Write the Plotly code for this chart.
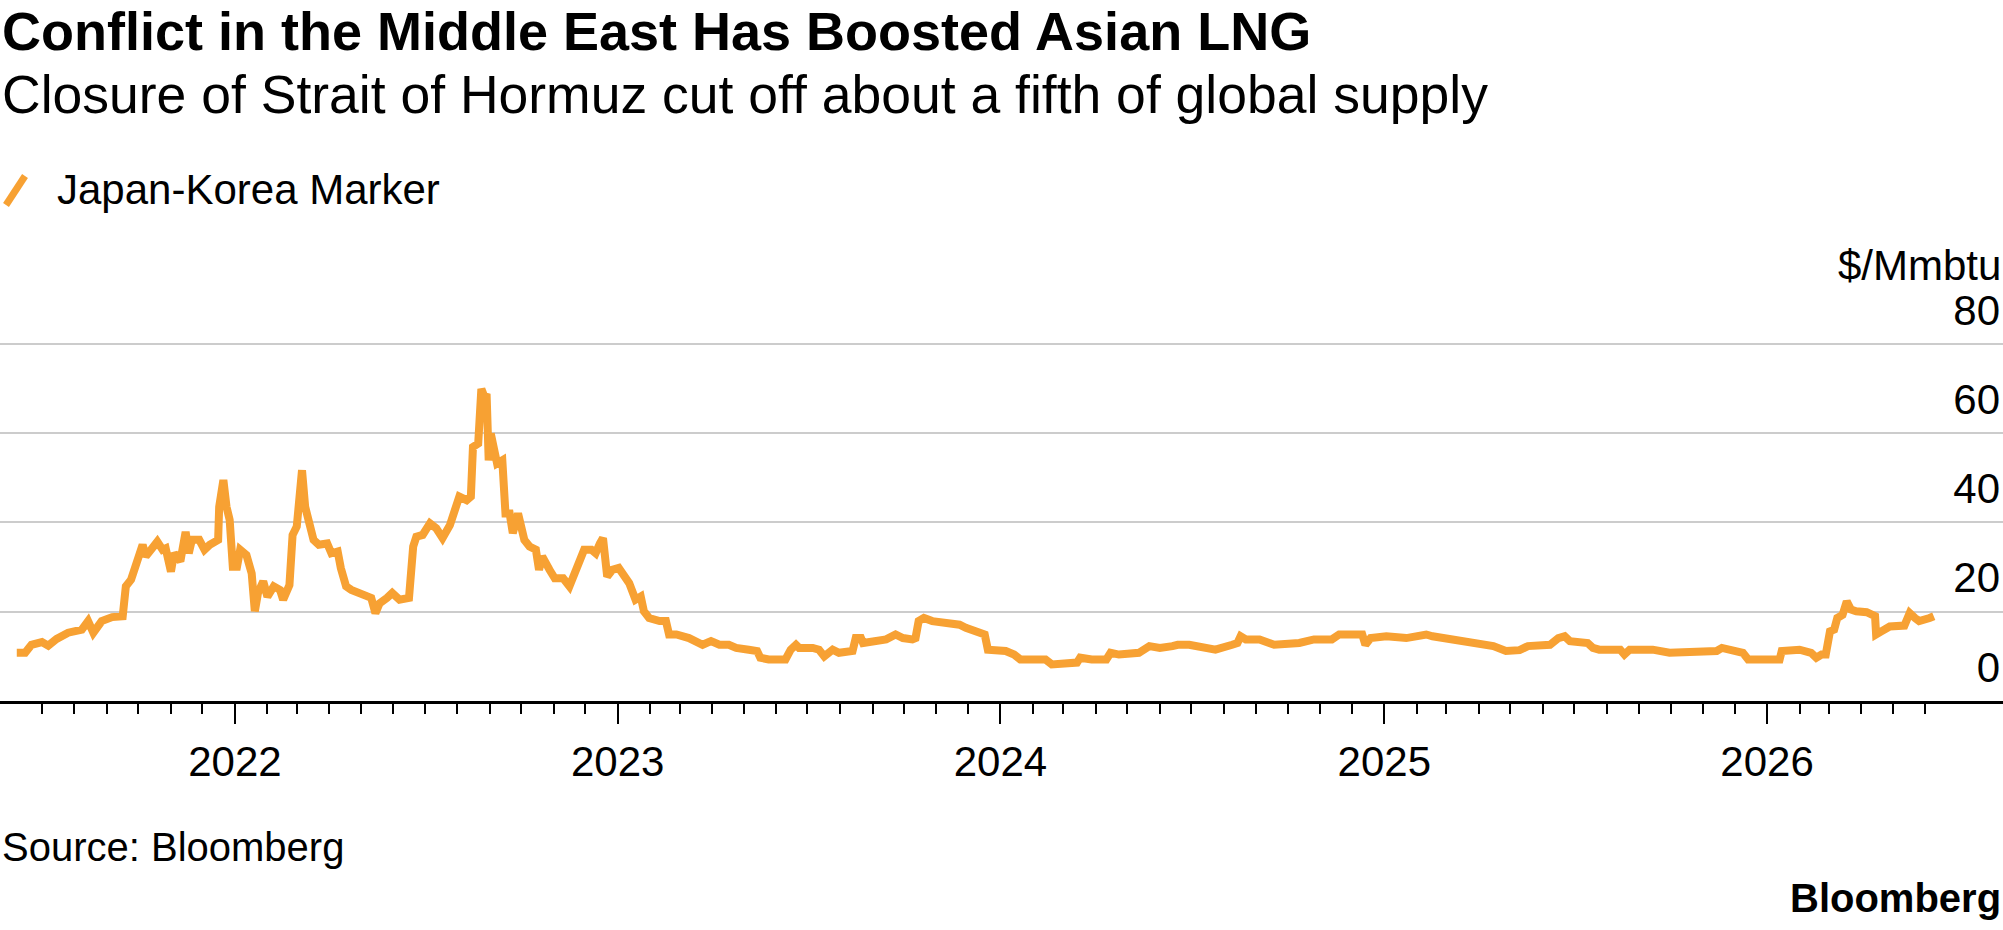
import pandas as pd
import plotly.graph_objects as go

# ---- data ----
dates = [
    "2021-06-07", "2021-06-15", "2021-06-21", "2021-07-01", "2021-07-07", "2021-07-15",
    "2021-07-26", "2021-08-08", "2021-08-14", "2021-08-19", "2021-08-27", "2021-09-06",
    "2021-09-16", "2021-09-19", "2021-09-24", "2021-10-01", "2021-10-05", "2021-10-08",
    "2021-10-14", "2021-10-19", "2021-10-24", "2021-10-27", "2021-11-01", "2021-11-04",
    "2021-11-10", "2021-11-15", "2021-11-18", "2021-11-21", "2021-11-28", "2021-12-03",
    "2021-12-08", "2021-12-16", "2021-12-17", "2021-12-21", "2021-12-24", "2021-12-27",
    "2021-12-30", "2022-01-03", "2022-01-06", "2022-01-12", "2022-01-17", "2022-01-20",
    "2022-01-23", "2022-01-28", "2022-02-01", "2022-02-07", "2022-02-13", "2022-02-16",
    "2022-02-22", "2022-02-25", "2022-03-01", "2022-03-06", "2022-03-09", "2022-03-14",
    "2022-03-17", "2022-03-22", "2022-03-30", "2022-04-03", "2022-04-09", "2022-04-12",
    "2022-04-17", "2022-04-22", "2022-05-02", "2022-05-08", "2022-05-11", "2022-05-15",
    "2022-05-19", "2022-05-26", "2022-05-31", "2022-06-07", "2022-06-16", "2022-06-20",
    "2022-06-23", "2022-06-29", "2022-07-06", "2022-07-12", "2022-07-18", "2022-07-25",
    "2022-07-29", "2022-08-03", "2022-08-10", "2022-08-14", "2022-08-16", "2022-08-21",
    "2022-08-24", "2022-08-27", "2022-08-29", "2022-08-31", "2022-09-02", "2022-09-05",
    "2022-09-08", "2022-09-13", "2022-09-16", "2022-09-20", "2022-09-23", "2022-09-28",
    "2022-10-04", "2022-10-09", "2022-10-15", "2022-10-18", "2022-10-21", "2022-10-28",
    "2022-11-02", "2022-11-10", "2022-11-16", "2022-11-21", "2022-11-27", "2022-11-30",
    "2022-12-07", "2022-12-11", "2022-12-15", "2022-12-18", "2022-12-22", "2022-12-27",
    "2023-01-02", "2023-01-07", "2023-01-12", "2023-01-18", "2023-01-23", "2023-01-26",
    "2023-01-31", "2023-02-10", "2023-02-16", "2023-02-19", "2023-02-26", "2023-03-10",
    "2023-03-17", "2023-03-23", "2023-03-31", "2023-04-08", "2023-04-17", "2023-04-24",
    "2023-05-06", "2023-05-14", "2023-05-17", "2023-05-25", "2023-06-10", "2023-06-15",
    "2023-06-20", "2023-06-23", "2023-07-06", "2023-07-12", "2023-07-17", "2023-07-25",
    "2023-07-31", "2023-08-13", "2023-08-16", "2023-08-21", "2023-08-23", "2023-09-04",
    "2023-09-14", "2023-09-23", "2023-09-30", "2023-10-09", "2023-10-12", "2023-10-15",
    "2023-10-20", "2023-10-28", "2023-11-10", "2023-11-23", "2023-11-29", "2023-12-12",
    "2023-12-17", "2023-12-20", "2023-12-28", "2024-01-06", "2024-01-14", "2024-01-20",
    "2024-01-31", "2024-02-13", "2024-02-19", "2024-03-03", "2024-03-14", "2024-03-17",
    "2024-03-28", "2024-04-11", "2024-04-15", "2024-04-23", "2024-05-06", "2024-05-12",
    "2024-05-22", "2024-06-01", "2024-06-13", "2024-06-18", "2024-06-29", "2024-07-08",
    "2024-07-24", "2024-08-09", "2024-08-14", "2024-08-17", "2024-08-22", "2024-09-04",
    "2024-09-18", "2024-10-12", "2024-10-26", "2024-11-12", "2024-11-19", "2024-12-11",
    "2024-12-14", "2024-12-19", "2025-01-03", "2025-01-22", "2025-02-10", "2025-02-16",
    "2025-03-07", "2025-04-02", "2025-04-15", "2025-04-27", "2025-05-10", "2025-05-18",
    "2025-06-08", "2025-06-16", "2025-06-22", "2025-06-27", "2025-07-14", "2025-07-19",
    "2025-07-25", "2025-08-14", "2025-08-18", "2025-08-23", "2025-09-14", "2025-09-30",
    "2025-11-14", "2025-11-19", "2025-12-09", "2025-12-14", "2026-01-13", "2026-01-15",
    "2026-02-01", "2026-02-12", "2026-02-17", "2026-02-22", "2026-02-26", "2026-03-02",
    "2026-03-06", "2026-03-09", "2026-03-14", "2026-03-18", "2026-03-22", "2026-03-27",
    "2026-04-06", "2026-04-14", "2026-04-15", "2026-04-20", "2026-04-28", "2026-05-12",
    "2026-05-17", "2026-05-22", "2026-05-26", "2026-06-05", "2026-06-09",
]
jkm = [
    10.8, 10.8, 12.6, 13.2, 12.4, 13.9,
    15.3, 16.0, 17.9, 15.3, 17.9, 18.8,
    19.0, 25.7, 27.2, 31.6, 35.0, 32.4,
    33.9, 35.7, 33.9, 34.2, 29.0, 33.1,
    31.3, 37.9, 33.1, 36.1, 36.1, 33.9,
    35.0, 36.1, 43.5, 49.5, 43.5, 40.6,
    30.1, 30.1, 33.9, 32.7, 28.6, 20.1,
    24.2, 26.8, 23.4, 25.7, 24.9, 22.7,
    26.0, 37.2, 39.1, 51.7, 43.5, 37.6,
    36.1, 35.0, 35.3, 33.1, 33.5, 29.8,
    25.7, 24.9, 23.8, 23.1, 23.1, 19.7,
    21.9, 23.1, 24.2, 22.7, 23.1, 34.6,
    36.8, 37.2, 39.8, 38.7, 36.5, 39.4,
    42.8, 45.8, 45.0, 45.8, 56.9, 57.7,
    69.9, 68.1, 68.8, 53.9, 59.9, 55.4,
    53.2, 53.9, 42.0, 42.0, 37.6, 42.0,
    36.1, 34.6, 33.9, 29.4, 32.4, 29.4,
    27.5, 27.5, 25.7, 28.6, 31.6, 33.9,
    33.9, 33.1, 35.3, 36.5, 27.9, 29.4,
    29.8, 27.9, 26.4, 22.7, 23.4, 20.1,
    18.6, 17.9, 17.9, 14.9, 14.9, 14.1,
    13.4, 12.6, 13.4, 12.6, 12.6, 11.9,
    11.5, 11.2, 9.7, 9.3, 9.3, 11.5,
    12.6, 11.9, 11.9, 11.5, 10.0, 11.5,
    10.8, 11.2, 14.1, 14.1, 13.0, 13.4,
    13.8, 14.9, 14.1, 13.8, 14.1, 17.9,
    18.6, 17.9, 17.5, 17.1, 16.4, 15.6,
    14.9, 11.5, 11.5, 11.2, 10.4, 9.3,
    9.3, 9.3, 8.2, 8.2, 8.6, 9.7,
    9.3, 9.3, 10.8, 10.4, 10.4, 10.8,
    12.3, 11.9, 12.3, 12.6, 12.6, 12.3,
    11.5, 12.6, 13.0, 14.5, 13.8, 13.8,
    12.6, 13.0, 13.8, 13.8, 14.9, 14.9,
    12.6, 14.1, 14.5, 14.1, 14.9, 14.5,
    13.8, 13.0, 12.3, 11.2, 11.4, 12.3,
    12.6, 14.1, 14.5, 13.4, 13.0, 11.9,
    11.5, 11.5, 10.4, 11.5, 11.5, 10.8,
    11.2, 11.9, 10.8, 9.3, 9.3, 11.2,
    11.5, 10.8, 9.7, 10.4, 10.4, 15.6,
    16.0, 18.6, 19.3, 22.3, 20.5, 20.1,
    19.9, 19.0, 14.9, 15.6, 16.7, 16.9,
    19.7, 18.6, 17.9, 18.6, 19.0,
]

series_name = "Japan-Korea Marker"
y_ticks = [0, 20, 40, 60, 80]
x_range = ["2021-05-22", "2026-08-14"]
month_ticks_span = ("2021-07-01", "2026-06-01")

title = "Conflict in the Middle East Has Boosted Asian LNG"
subtitle = "Closure of Strait of Hormuz cut off about a fifth of global supply"
unit = "$/Mmbtu"
source = "Source: Bloomberg"
brand = "Bloomberg"

# ---- style ----
ORANGE = "#F7A133"
FONT = "Liberation Sans, Arial, sans-serif"
W, H = 2003, 930
T, B = 335, 229
Y_TOP = 82

minor_vals = [d.strftime("%Y-%m-%d")
              for d in pd.date_range(month_ticks_span[0], month_ticks_span[1], freq="MS")]

fig = go.Figure()
fig.add_trace(go.Scatter(
    x=dates, y=jkm, mode="lines", name=series_name,
    line=dict(color=ORANGE, width=8), showlegend=False, hoverinfo="skip",
))

fig.update_layout(
    width=W, height=H,
    margin=dict(l=0, r=0, t=T, b=B, pad=0, autoexpand=False),
    paper_bgcolor="white", plot_bgcolor="white",
    font=dict(family=FONT, color="black", size=42),
    xaxis=dict(
        type="date", range=x_range,
        showgrid=False, zeroline=False,
        showline=True, linecolor="black", linewidth=3,
        ticks="outside", ticklen=20, tickwidth=2, tickcolor="black",
        dtick="M12", tick0="2022-01-01", tickformat="%Y",
        ticklabelstandoff=2,
        tickfont=dict(size=42, family=FONT, color="black"),
        minor=dict(ticks="outside", ticklen=10, tickwidth=2, tickcolor="black",
                   tickmode="array", tickvals=minor_vals, showgrid=False),
        fixedrange=True,
    ),
    yaxis=dict(
        range=[0, Y_TOP], side="right",
        tickvals=y_ticks, ticktext=[str(v) for v in y_ticks],
        ticklabelposition="inside", ticklabelshift=-34, ticklabeloverflow="allow",
        ticks="", showline=False, zeroline=False,
        showgrid=True, gridcolor="#CCCCCC", gridwidth=2,
        tickfont=dict(size=42, family=FONT, color="black"),
        fixedrange=True,
    ),
)

def py(pix):
    """convert a pixel row of the page to paper y"""
    return (H - B - pix) / (H - T - B)

annotations = [
    dict(text="<b>" + title + "</b>", x=0, y=py(31), xanchor="left", yanchor="middle",
         font=dict(size=54, family=FONT)),
    dict(text=subtitle, x=0, y=py(95), xanchor="left", yanchor="middle",
         font=dict(size=53.5, family=FONT)),
    dict(text=series_name, x=55 / W, y=py(189), xanchor="left", yanchor="middle",
         font=dict(size=42, family=FONT)),
    dict(text=unit, x=1, y=py(265), xanchor="right", yanchor="middle",
         font=dict(size=42, family=FONT)),
    dict(text=source, x=0, y=py(847), xanchor="left", yanchor="middle",
         font=dict(size=40, family=FONT)),
    dict(text="<b>" + brand + "</b>", x=1, y=py(898), xanchor="right", yanchor="middle",
         font=dict(size=40, family=FONT)),
]
for a in annotations:
    a.update(xref="paper", yref="paper", showarrow=False)
fig.update_layout(annotations=annotations)

# legend swatch (diagonal stroke)
fig.add_shape(type="line", xref="paper", yref="paper",
              x0=6 / W, y0=py(205), x1=25 / W, y1=py(176),
              line=dict(color=ORANGE, width=7))

fig.write_html("out.html")
